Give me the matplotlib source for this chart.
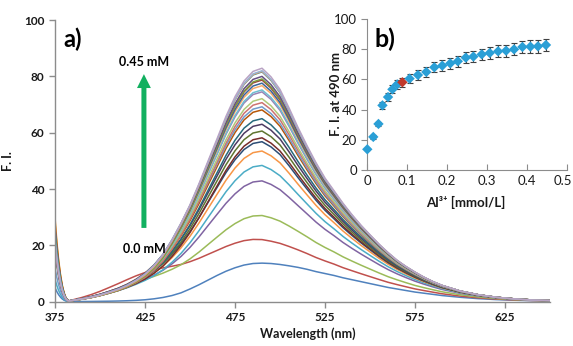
import numpy as np
import matplotlib
matplotlib.use("Agg")
import matplotlib.pyplot as plt
from matplotlib.transforms import ScaledTranslation

plt.rcParams['font.family'] = ['Lato', 'DejaVu Sans']

# ---------------- data ----------------
# Al3+ concentration (mmol/L) and F.I. at 490 nm (inset b)
conc = [0, 0.015, 0.028, 0.038, 0.052, 0.063, 0.075, 0.088, 0.106, 0.127,
        0.148, 0.168, 0.188, 0.208, 0.227, 0.247, 0.266, 0.287, 0.307, 0.328,
        0.348, 0.368, 0.389, 0.409, 0.428, 0.448]
fi490 = [13.7, 21.9, 30.5, 42.8, 48.3, 53.4, 56.7, 58.1, 60.5, 62.9,
         64.9, 68.0, 69.1, 70.6, 72.0, 74.4, 75.1, 76.6, 77.5, 78.6,
         79.0, 79.9, 81.5, 81.7, 81.9, 82.8]
fi_err = [0.7, 1.1, 1.5, 2.1, 2.4, 2.7, 2.8, 2.9, 3.0, 3.1,
          3.2, 3.4, 3.5, 3.5, 3.6, 3.7, 3.8, 3.8, 3.9, 3.9,
          4.0, 4.0, 4.1, 4.1, 4.1, 4.1]
red_index = 7

# wavelength grid (nm)
wl = [375, 376, 377, 378, 379, 380, 381, 382, 383, 385,
      390, 395, 400, 405, 410, 415, 420, 425, 430, 435,
      440, 445, 450, 455, 460, 465, 470, 475, 480, 485,
      490, 495, 500, 505, 510, 515, 520, 525, 530, 535,
      540, 545, 550, 555, 560, 565, 570, 575, 580, 585,
      590, 600, 610, 620, 630, 640, 650]
# normalised emission band
band_high = [0, 0, 0, 0, 0, 0, 0, 0, 0.001, 0.001,
             0.001, 0.001, 0.002, 0.004, 0.007, 0.014, 0.027, 0.048, 0.082, 0.131,
             0.199, 0.278, 0.365, 0.464, 0.569, 0.673, 0.777, 0.867, 0.939, 0.984,
             1.0, 0.964, 0.91, 0.831, 0.747, 0.669, 0.596, 0.53, 0.476, 0.422,
             0.373, 0.328, 0.287, 0.247, 0.211, 0.178, 0.151, 0.127, 0.105, 0.086,
             0.07, 0.046, 0.03, 0.019, 0.012, 0.007, 0.005]
# normalised emission band
band_low = [0, 0, 0, 0, 0, 0, 0, 0, 0.002, 0.003,
            0.005, 0.007, 0.01, 0.013, 0.018, 0.025, 0.035, 0.05, 0.075, 0.11,
            0.16, 0.23, 0.33, 0.44, 0.56, 0.68, 0.79, 0.88, 0.95, 0.99,
            1.0, 0.99, 0.965, 0.93, 0.89, 0.84, 0.78, 0.73, 0.68, 0.62,
            0.57, 0.52, 0.47, 0.42, 0.37, 0.33, 0.29, 0.25, 0.22, 0.19,
            0.16, 0.115, 0.08, 0.055, 0.038, 0.026, 0.018]
# short-wavelength shoulder (absolute F.I.)
shoulder = [0, 0, 0, 0, 0, 0, 0, 0.1, 0.2, 0.4,
            0.9, 1.5, 2.2, 3.0, 3.8, 4.6, 5.3, 5.8, 6.0, 5.9,
            5.5, 4.9, 4.2, 3.5, 2.8, 2.1, 1.5, 1.0, 0.6, 0.3,
            0.1, 0, 0, 0, 0, 0, 0, 0, 0, 0,
            0, 0, 0, 0, 0, 0, 0, 0, 0, 0,
            0, 0, 0, 0, 0, 0, 0]
# scatter spike at the start of the scan (normalised)
spike = [1.0, 0.72, 0.5, 0.33, 0.2, 0.11, 0.05, 0.015, 0, 0] + [0] * 47
spike_height = [5, 24, 29, 20, 8, 30, 22, 26, 18, 21, 24, 28, 12, 23, 19,
                25, 21, 22, 26, 20, 24, 19, 23, 21, 22, 20]
shoulder_w = [0, 1.6, 1.1, 1.0, 0.9, 1.0, 1.1, 0.9, 1.0, 1.05, 0.95, 1.0, 1.1,
              0.9, 1.0, 1.05, 0.95, 1.0, 1.0, 1.1, 0.9, 1.0, 1.05, 0.95, 1.0, 1.0]

colors = ['#4F81BD', '#C0504D', '#9BBB59', '#8064A2', '#4BACC6', '#F79646',
          '#2C4D75', '#772C2A', '#5F7530', '#4D3B62', '#276A7C', '#B65708',
          '#729ACA', '#CD7371', '#AFC97A', '#9983B5', '#6FBDD1', '#F9AB6B',
          '#3A679C', '#9F3B38', '#7E9D40', '#664F83', '#358EA6', '#F59D56',
          '#95B3D7', '#B9A3C4']

# ---------------- figure ----------------
fig = plt.figure(figsize=(5.73, 3.46), dpi=100)
ax = fig.add_axes([0.096, 0.128, 0.8639, 0.814])

wl_a = np.array(wl, dtype=float)
bh = np.array(band_high); bl = np.array(band_low)
sh = np.array(shoulder); sp = np.array(spike)
amin, amax = min(fi490), max(fi490)
for i, a in enumerate(fi490):
    m = np.sqrt((a - amin) / (amax - amin))
    y = a * (m * bh + (1 - m) * bl) + shoulder_w[i] * sh + spike_height[i] * sp
    ax.plot(wl_a, y, color=colors[i], lw=1.1, solid_capstyle='round')

axis_col = '#8C8C8C'
ax.set_xlim(375, 650)
ax.set_ylim(0, 100)
ax.set_xticks([375, 425, 475, 525, 575, 625])
ax.set_yticks([0, 20, 40, 60, 80, 100])
for s in ['top', 'right']:
    ax.spines[s].set_visible(False)
for s in ['left', 'bottom']:
    ax.spines[s].set_color(axis_col)
    ax.spines[s].set_linewidth(1.0)
ax.tick_params(axis='both', colors=axis_col, direction='out', length=4, width=1,
               labelsize=8.5, labelcolor='#1a1a1a')
for lab in ax.get_xticklabels() + ax.get_yticklabels():
    lab.set_fontweight('bold')
ax.set_xlabel('Wavelength (nm)', fontsize=9, fontweight='bold', color='#1a1a1a')
ax.set_ylabel('F. I.', fontsize=9, fontweight='bold', color='#1a1a1a')
ax.yaxis.set_label_coords(-0.082, 0.5)
ax.xaxis.set_label_coords(0.51, -0.09)

ax.text(379.4, 93.2, 'a)', fontsize=17, fontweight='bold', ha='left', va='center')
ax.annotate('', xy=(424.4, 80.8), xytext=(424.4, 26.2),
            arrowprops=dict(width=3.6, headwidth=10, headlength=10, shrink=0,
                            color='#12B060', lw=0))
ax.text(424.4, 85.2, '0.45 mM', fontsize=9, fontweight='bold', ha='center', va='center')
ax.text(424.4, 18.7, '0.0 mM', fontsize=9, fontweight='bold', ha='center', va='center')

# ---------------- inset ----------------
ax2 = fig.add_axes([0.641, 0.5087, 0.348, 0.4364], facecolor='none')
pt_col = ['#2A9FD6'] * len(conc)
pt_col[red_index] = '#C0392B'
ax2.errorbar(conc, fi490, yerr=fi_err, fmt='none', ecolor='#404040',
             elinewidth=0.8, capsize=2.2, capthick=0.8, zorder=2)
ax2.scatter(conc, fi490, c=pt_col, marker='D', s=28, zorder=3, linewidths=0,
            clip_on=False)
ax2.set_xlim(0, 0.5)
ax2.set_ylim(0, 100)
ax2.set_xticks([0, 0.1, 0.2, 0.3, 0.4, 0.5])
ax2.set_xticklabels(['0', '0.1', '0.2', '0.3', '0.4', '0.5'])
ax2.set_yticks([0, 20, 40, 60, 80, 100])
for s in ['top', 'right']:
    ax2.spines[s].set_visible(False)
for s in ['left', 'bottom']:
    ax2.spines[s].set_color(axis_col)
ax2.tick_params(axis='y', colors=axis_col, direction='out', length=4,
                labelsize=9.5, labelcolor='#1a1a1a')
ax2.tick_params(axis='x', colors=axis_col, direction='in', length=4,
                labelsize=9.5, labelcolor='#1a1a1a')
last = ax2.get_xticklabels()[-1]
last.set_transform(last.get_transform() + ScaledTranslation(-4 / 100, 0, fig.dpi_scale_trans))
ax2.set_xlabel('Al³⁺ [mmol/L]', fontsize=9.5, fontweight='bold', color='#1a1a1a')
ax2.set_ylabel('F. I. at 490 nm', fontsize=9.5, fontweight='bold', color='#1a1a1a')
ax2.yaxis.set_label_coords(-0.127, 0.5)
ax2.xaxis.set_label_coords(0.495, -0.17)
ax2.text(0.019, 86.4, 'b)', fontsize=18, fontweight='bold', ha='left', va='center')

fig.savefig('out.png', dpi=100)
